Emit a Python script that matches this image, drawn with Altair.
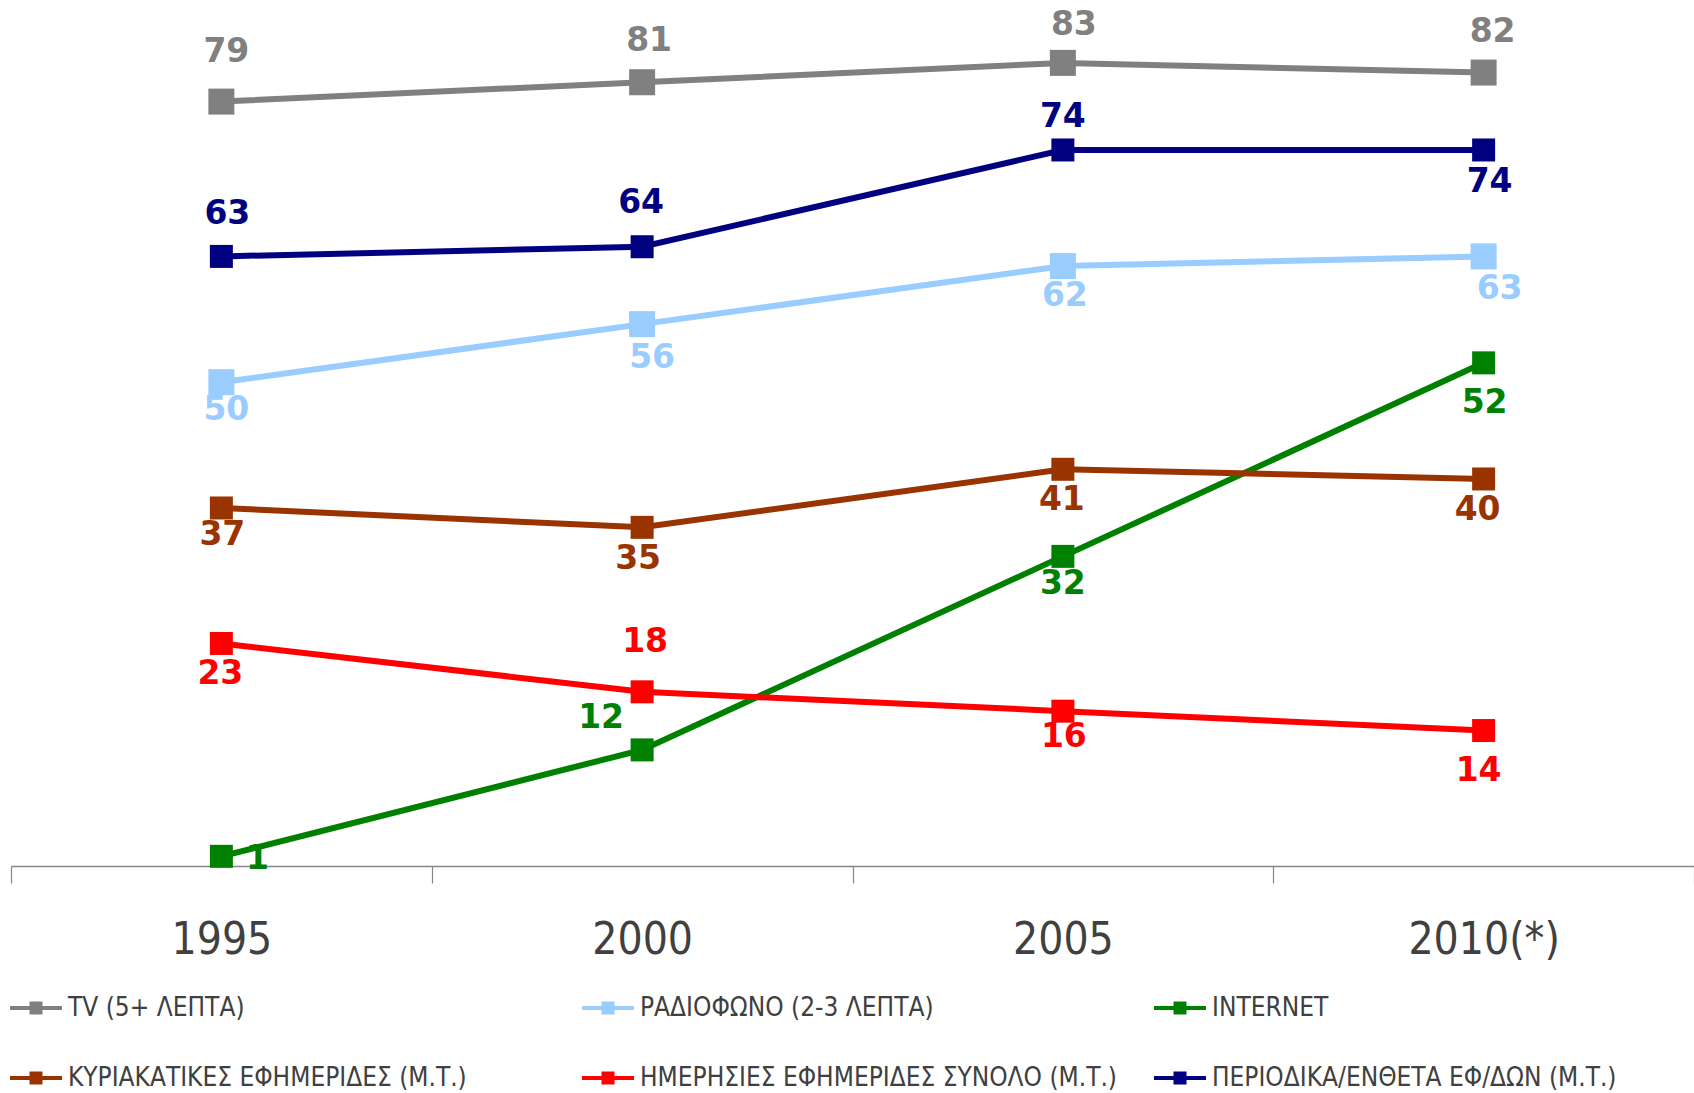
import altair as alt
import pandas as pd

# Survey years (x axis) and media series
years = ["1995", "2000", "2005", "2010(*)"]
series = [
    "TV (5+ ΛΕΠΤΑ)",
    "ΡΑΔΙΟΦΩΝΟ (2-3 ΛΕΠΤΑ)",
    "INTERNET",
    "ΚΥΡΙΑΚΑΤΙΚΕΣ ΕΦΗΜΕΡΙΔΕΣ (Μ.Τ.)",
    "ΗΜΕΡΗΣΙΕΣ ΕΦΗΜΕΡΙΔΕΣ ΣΥΝΟΛΟ (Μ.Τ.)",
    "ΠΕΡΙΟΔΙΚΑ/ΕΝΘΕΤΑ ΕΦ/ΔΩΝ (Μ.Τ.)",
]

# Reach (%) per series
tv = [79, 81, 83, 82]
radio = [50, 56, 62, 63]
internet = [1, 12, 32, 52]
sunday_papers = [37, 35, 41, 40]
daily_papers = [23, 18, 16, 14]
periodicals = [63, 64, 74, 74]

colors = ["#808080", "#99CCFF", "#008000", "#993300", "#FF0000", "#000080"]

values = [tv, radio, internet, sunday_papers, daily_papers, periodicals]
df = pd.DataFrame(
    [
        {"series": s, "year": y, "value": v}
        for s, vals in zip(series, values)
        for y, v in zip(years, vals)
    ]
)

# Pixel offsets (dx, dy) of each value label from its marker
label_offsets = {
    series[0]: [(5, -52), (7, -43), (11, -40), (9, -43)],
    series[1]: [(5, 26), (10, 32), (2, 28), (16, 31)],
    series[2]: [(36, 1), (-41, -34), (0, 26), (1, 38)],
    series[3]: [(1, 25), (-4, 30), (-1, 29), (-6, 29)],
    series[4]: [(-1, 29), (3, -52), (1, 24), (-5, 38)],
    series[5]: [(6, -44), (-1, -46), (0, -35), (6, 30)],
}

# Marker side (px) per series
marker_side = {
    series[0]: 26,
    series[1]: 26,
    series[2]: 23,
    series[3]: 23,
    series[4]: 23,
    series[5]: 23,
}

LABEL_FONT = "DejaVu Sans, sans-serif"
AXIS_FONT = "DejaVu Sans Condensed, Liberation Sans, sans-serif"

# Legend glyph: a short line with a small square in the middle
legend_glyph = "M-1,-0.08H1V0.08H-1Z M-0.25,-0.25H0.25V0.25H-0.25Z"

x_enc = alt.X(
    "year:N",
    sort=years,
    scale=alt.Scale(type="band", paddingInner=0, paddingOuter=0),
    axis=alt.Axis(
        title=None,
        labelAngle=0,
        labelFont=AXIS_FONT,
        labelFontSize=44,
        labelColor="#404040",
        labelBaseline="middle",
        labelPadding=57,
        tickBand="extent",
        tickSize=17,
        tickColor="#868686",
        tickWidth=1.2,
        domainColor="#868686",
        domainWidth=1.5,
        grid=False,
    ),
)
y_enc = alt.Y("value:Q", scale=alt.Scale(domain=[0, 89.5], nice=False, zero=True), axis=None)
color_scale = alt.Scale(domain=series, range=colors)

legend_def = alt.Legend(
    title=None,
    orient="none",
    legendX=-1,
    legendY=982,
    direction="horizontal",
    columns=3,
    gridAlign="all",
    columnPadding=36,
    rowPadding=31,
    padding=0,
    symbolType=legend_glyph,
    symbolSize=2704,
    symbolStrokeWidth=0,
    labelFont=AXIS_FONT,
    labelFontSize=26,
    labelColor="#404040",
    labelOffset=6,
    labelLimit=800,
)
color_enc = alt.Color("series:N", scale=color_scale, legend=legend_def)

base = alt.Chart(df)

# Each series: its line, then its markers, in legend order
series_layers = []
for s in series:
    sub = base.transform_filter(alt.datum.series == s)
    series_layers.append(
        sub.mark_line(strokeWidth=6).encode(x=x_enc, y=y_enc, color=color_enc)
    )
    series_layers.append(
        sub.mark_point(
            shape="square", filled=True, opacity=1, size=marker_side[s] ** 2
        ).encode(x=x_enc, y=y_enc, color=color_enc)
    )

label_layers = []
for s in series:
    for yr, (dx, dy) in zip(years, label_offsets[s]):
        label_layers.append(
            base.transform_filter(
                (alt.datum.series == s) & (alt.datum.year == yr)
            ).mark_text(
                font=LABEL_FONT,
                fontSize=33,
                fontWeight="bold",
                align="center",
                baseline="middle",
                dx=dx,
                dy=dy + 2,
            ).encode(
                x=x_enc,
                y=y_enc,
                text=alt.Text("value:Q"),
                color=color_enc,
            )
        )

chart = (
    alt.layer(*series_layers, *label_layers)
    .properties(
        width=1683,
        height=866,
        autosize=alt.AutoSizeParams(type="none"),
        padding={"left": 11, "top": 0, "right": 0, "bottom": 227},
        background="#FFFFFF",
    )
    .configure_view(strokeWidth=0)
)

chart.save("out.html", embed_options={"renderer": "svg", "actions": False})
